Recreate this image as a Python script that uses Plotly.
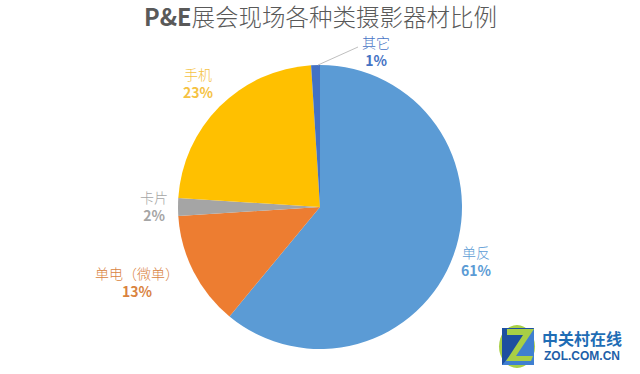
import plotly.graph_objects as go

W, H = 640, 374
categories = ["单反", "单电（微单）", "卡片", "手机", "其它"]
values = [61, 13, 2, 23, 1]
colors = ["#5B9BD5", "#ED7D31", "#A5A5A5", "#FFC000", "#4472C4"]
text_colors = ["#5B9BD5", "#D9833F", "#A5A5A5", "#F5C242", "#4472C4"]
label_pos = [(476, 261), (137, 282), (154, 206), (198, 83), (376, 51)]
title = "<b>P&E</b>展会现场各种类摄影器材比例"
FONT = "Noto Sans CJK SC"


def px(x):
    return x / W


def py(y):
    return 1 - y / H


def poly(points):
    return "M" + " L".join(f"{px(x)},{py(y)}" for x, y in points) + " Z"


fig = go.Figure(go.Pie(
    labels=categories, values=values, sort=False, direction="clockwise", rotation=0,
    marker=dict(colors=colors, line=dict(width=0)), textinfo="none", hoverinfo="none",
    domain=dict(x=[px(178), px(462)], y=[py(349), py(65)]), showlegend=False,
))

ann = [dict(text=title, x=px(320), y=py(16), showarrow=False, xanchor="center", yanchor="middle",
            font=dict(family=FONT, size=23.5, color="#595959", weight=300))]
for c, v, tc, (x, y) in zip(categories, values, text_colors, label_pos):
    ann.append(dict(text=f"{c}<br><b>{v}%</b>", x=px(x), y=py(y), showarrow=False, align="center",
                    xanchor="center", yanchor="middle", font=dict(family=FONT, size=14, color=tc, weight=300)))
ann += [
    dict(text="<b>中关村在线</b>", x=px(582), y=py(338), showarrow=False, xanchor="center", yanchor="middle",
         font=dict(family=FONT, size=16, color="#1F6DB5")),
    dict(text="<b>ZOL.COM.CN</b>", x=px(582), y=py(356), showarrow=False, xanchor="center", yanchor="middle",
         font=dict(family="Liberation Sans", size=12, color="#1F5FA8")),
]

logo = [
    ("#1D4FA0", [(502, 328), (534, 328), (534, 365), (502, 365)]),
    ("#3F7FD0", [(534, 328), (534, 365), (502, 365)]),
    ("#A8CF45", [(507, 329), (534, 329), (516, 356), (533, 356), (531, 361), (506, 361),
                 (523, 335), (507, 335)]),
]
shapes = [
    dict(type="line", xref="paper", yref="paper", x0=px(318), y0=py(65), x1=px(358), y1=py(47),
         line=dict(color="#BFBFBF", width=1)),
    dict(type="circle", xref="paper", yref="paper", x0=px(499), y0=py(368), x1=px(535), y1=py(325),
         fillcolor="#A8CF45", line=dict(width=0), layer="above"),
]
for col, pts in logo:
    shapes.append(dict(type="path", xref="paper", yref="paper", path=poly(pts),
                       fillcolor=col, line=dict(width=0), layer="above"))

fig.update_layout(width=W, height=H, margin=dict(l=0, r=0, t=0, b=0), paper_bgcolor="white",
                  annotations=ann, shapes=shapes)
fig.write_html("out.html", config={"displayModeBar": False},
               post_script="document.body.style.margin='0';document.documentElement.style.overflow='hidden';")
